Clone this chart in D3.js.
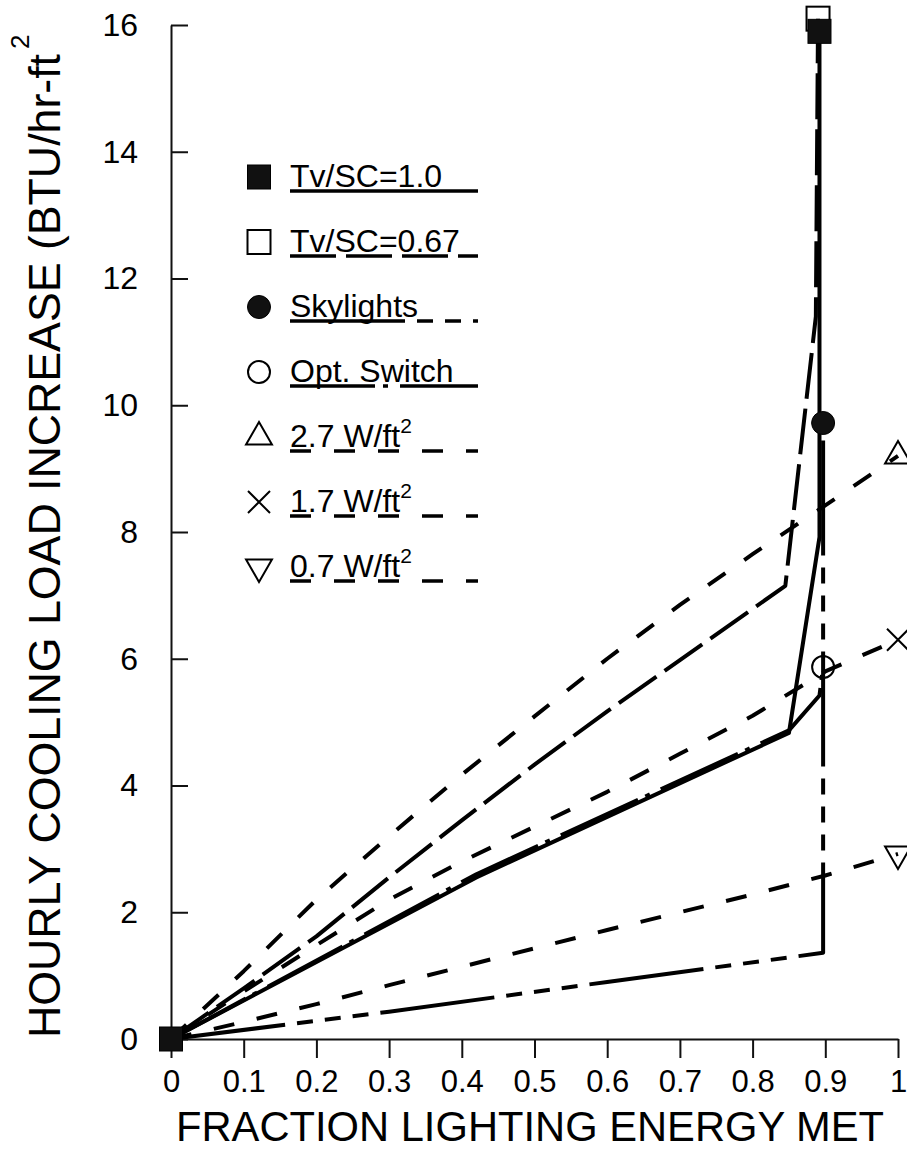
<!DOCTYPE html>
<html>
<head>
<meta charset="utf-8">
<script src="https://cdn.jsdelivr.net/npm/d3@7"></script>
<style>
  html, body { margin: 0; padding: 0; background: #fff; }
  svg { display: block; }
</style>
</head>
<body>
<svg width="907" height="1153"></svg>
<script>
// tick labels
var xTicks = [0, 0.1, 0.2, 0.3, 0.4, 0.5, 0.6, 0.7, 0.8, 0.9, 1];
var yTicks = [0, 2, 4, 6, 8, 10, 12, 14, 16];

// series (fraction met, BTU/hr-ft2)
var tv10X = [0, 0.42, 0.85, 0.892, 0.892];
var tv10Y = [0, 2.55, 4.83, 7.92, 15.9];

var tv67X = [0, 0.1, 0.2, 0.3, 0.4, 0.5, 0.6, 0.7, 0.845, 0.887, 0.89];
var tv67Y = [0, 0.8, 1.62, 2.55, 3.45, 4.33, 5.17, 5.98, 7.15, 11.4, 16.1];

var skyX = [0, 0.3, 0.6, 0.897, 0.897];
var skyY = [0, 0.43, 0.9, 1.36, 9.72];

var optX = [0, 0.42, 0.85, 0.892, 0.897];
var optY = [0, 2.6, 4.87, 5.42, 5.87];

var w27X = [0, 0.1, 0.2, 0.3, 0.4, 0.5, 0.6, 0.7, 0.8, 0.9, 1];
var w27Y = [0, 1.07, 2.2, 3.2, 4.17, 5.09, 6.0, 6.85, 7.65, 8.42, 9.2];

var w17X = [0, 0.1, 0.2, 0.3, 0.4, 0.5, 0.6, 0.7, 0.8, 0.9, 1];
var w17Y = [0, 0.75, 1.48, 2.2, 2.8, 3.35, 3.9, 4.5, 5.1, 5.8, 6.3];

var w07X = [0, 0.1, 0.2, 0.3, 0.4, 0.5, 0.6, 0.7, 0.8, 0.9, 1];
var w07Y = [0, 0.27, 0.55, 0.85, 1.14, 1.43, 1.72, 2.0, 2.28, 2.58, 2.92];

var names = ["Tv/SC=1.0", "Tv/SC=0.67", "Skylights", "Opt. Switch", "2.7 W/ft", "1.7 W/ft", "0.7 W/ft"];
var supers = ["", "", "", "", "2", "2", "2"];

window.onload = function() {
  var svg = d3.select("svg");

  var x = d3.scaleLinear().domain([0, 1]).range([171, 898]);
  var y = d3.scaleLinear().domain([0, 16]).range([1039, 25]);

  var dashes = {
    solid: null,
    longdash: "46,10",
    sky: "115,12,16,12,16,12,16,12",
    opt: "85,8,5,12",
    dash: "21,23"
  };

  var series = [
    {xs: tv10X, ys: tv10Y, dash: dashes.solid, marker: "fsquare"},
    {xs: tv67X, ys: tv67Y, dash: dashes.longdash, marker: "osquare"},
    {xs: skyX, ys: skyY, dash: dashes.sky, marker: "fcircle"},
    {xs: optX, ys: optY, dash: dashes.opt, marker: "ocircle"},
    {xs: w27X, ys: w27Y, dash: dashes.dash, marker: "tri"},
    {xs: w17X, ys: w17Y, dash: dashes.dash, marker: "times"},
    {xs: w07X, ys: w07Y, dash: dashes.dash, marker: "tridown"}
  ];
  series.forEach(function(s, i) {
    s.name = names[i];
    s.sup = supers[i];
    s.pts = s.xs.map(function(v, j) { return [v, s.ys[j]]; });
  });

  // axes
  var xAxis = d3.axisBottom(x)
    .tickValues(xTicks)
    .tickSizeInner(19)
    .tickSizeOuter(0)
    .tickPadding(12)
    .tickFormat(function(d) { return d === 0 ? "0" : d === 1 ? "1" : d3.format(".1f")(d); });

  var yAxis = d3.axisLeft(y)
    .tickValues(yTicks)
    .tickSizeInner(-17)
    .tickSizeOuter(0)
    .tickPadding(33)
    .tickFormat(d3.format("d"));

  var gx = svg.append("g")
    .attr("transform", "translate(0," + y(0) + ")")
    .call(xAxis);
  gx.selectAll("text")
    .attr("font-family", "Liberation Sans, Arial, sans-serif")
    .attr("font-size", 31)
    .attr("fill", "#000");

  var gy = svg.append("g")
    .attr("transform", "translate(" + x(0) + ",0)")
    .call(yAxis);
  gy.selectAll("text")
    .attr("font-family", "Liberation Sans, Arial, sans-serif")
    .attr("font-size", 32)
    .attr("fill", "#000");

  svg.selectAll(".domain, .tick line")
    .attr("stroke", "#111")
    .attr("stroke-width", 2);

  // axis titles (condensed by a horizontal scale)
  svg.append("text")
    .attr("transform", "translate(176,1141) scale(0.97,1)")
    .attr("font-family", "Liberation Sans, Arial, sans-serif")
    .attr("font-size", 43)
    .text("FRACTION LIGHTING ENERGY MET");

  svg.append("text")
    .attr("transform", "translate(60,1038) rotate(-90)")
    .attr("font-family", "Liberation Sans Narrow, Liberation Sans, Arial, sans-serif")
    .attr("font-size", 44)
    .attr("textLength", 984)
    .attr("lengthAdjust", "spacingAndGlyphs")
    .text("HOURLY COOLING LOAD INCREASE (BTU/hr-ft");

  svg.append("text")
    .attr("transform", "translate(29,49) rotate(-90)")
    .attr("font-family", "Liberation Sans Narrow, Liberation Sans, Arial, sans-serif")
    .attr("font-size", 26)
    .text("2");

  // lines
  var line = d3.line()
    .x(function(d) { return x(d[0]); })
    .y(function(d) { return y(d[1]); });

  svg.append("g")
    .selectAll("path")
    .data(series)
    .enter().append("path")
    .attr("d", function(d) { return line(d.pts); })
    .attr("fill", "none")
    .attr("stroke", "#000")
    .attr("stroke-width", 4)
    .attr("stroke-linejoin", "round")
    .attr("stroke-dasharray", function(d) { return d.dash; });

  // markers
  function marker(g, kind, cx, cy) {
    var m;
    if (kind === "fsquare" || kind === "osquare") {
      m = g.append("rect").attr("x", cx - 11.5).attr("y", cy - 12).attr("width", 23).attr("height", 24);
    } else if (kind === "fcircle" || kind === "ocircle") {
      m = g.append("circle").attr("cx", cx).attr("cy", cy).attr("r", kind === "fcircle" ? 11.5 : 11);
    } else if (kind === "tri") {
      m = g.append("path").attr("d", d3.symbol(d3.symbolTriangle, 290)()).attr("transform", "translate(" + cx + "," + cy + ")");
    } else if (kind === "tridown") {
      m = g.append("path").attr("d", d3.symbol(d3.symbolTriangle, 290)()).attr("transform", "translate(" + cx + "," + cy + ") rotate(180)");
    } else {
      m = g.append("path").attr("d", "M-11,-11L11,11M-11,11L11,-11").attr("transform", "translate(" + cx + "," + cy + ")");
    }
    var filled = (kind === "fsquare" || kind === "fcircle");
    m.attr("fill", filled ? "#111" : "none")
      .attr("stroke", "#000")
      .attr("stroke-width", filled ? 1 : 2);
    return m;
  }

  var gm = svg.append("g");
  // open square first, filled square on top
  [1, 0, 2, 3, 4, 5, 6].forEach(function(i) {
    var s = series[i];
    var last = s.pts[s.pts.length - 1];
    marker(gm, s.marker, x(last[0]), y(last[1]));
  });
  marker(gm, "fsquare", x(0), y(0));

  // legend
  var legend = svg.append("g")
    .selectAll("g")
    .data(series)
    .enter().append("g")
    .attr("transform", function(d, i) { return "translate(0," + (187 + i * 65) + ")"; });

  legend.each(function(d) {
    var g = d3.select(this);
    marker(g, d.marker, 259, -10);
    var t = g.append("text")
      .attr("x", 290)
      .attr("y", 0)
      .attr("font-family", "Liberation Sans, Arial, sans-serif")
      .attr("font-size", 32)
      .attr("fill", "#000")
      .text(d.name);
    if (d.sup) {
      t.append("tspan")
        .attr("dy", -14)
        .attr("font-size", 21)
        .text(d.sup);
    }
    g.append("line")
      .attr("x1", 290)
      .attr("x2", 478)
      .attr("y1", 4)
      .attr("y2", 4)
      .attr("stroke", "#000")
      .attr("stroke-width", 3.4)
      .attr("stroke-dasharray", d.dash);
  });
};
</script>
</body>
</html>
